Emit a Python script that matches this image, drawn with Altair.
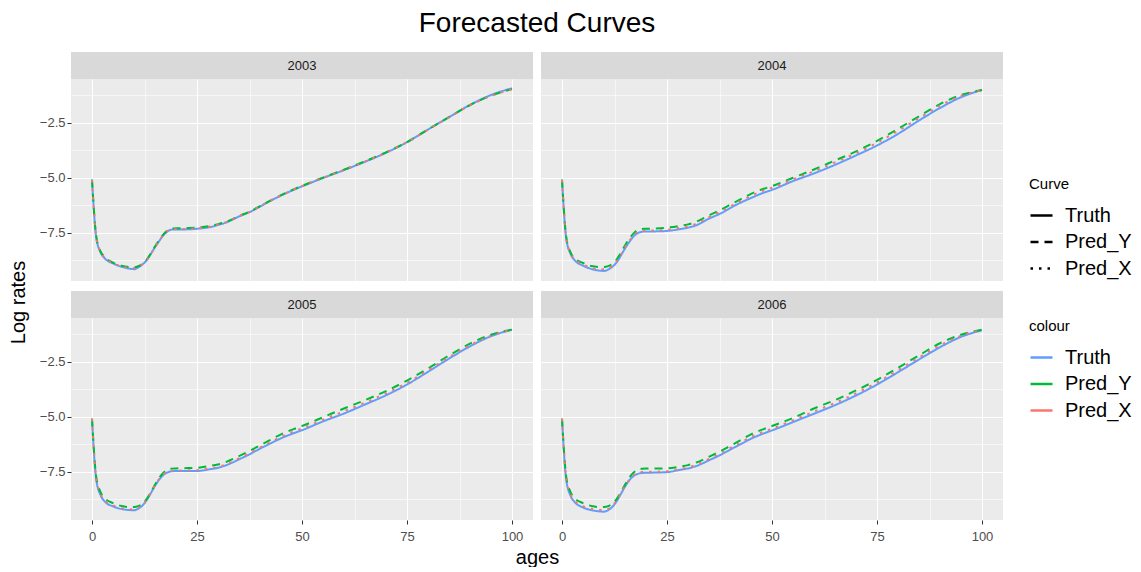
import altair as alt
import pandas as pd

FONT = "Liberation Sans"

ages = [0, 1, 2, 3, 5, 7, 9, 10, 11, 12, 13, 14, 15, 16, 17, 18, 19, 20, 22, 25,
        28, 30, 32, 35, 38, 40, 42, 45, 48, 50, 55, 60, 65, 70, 75, 80, 85, 90, 95, 100]

years = ["2003", "2004", "2005", "2006"]
curves = ["Truth", "Pred_Y", "Pred_X"]

truth_2003 = [-5.12, -7.70, -8.38, -8.66, -8.90, -9.05, -9.14, -9.16, -9.08, -8.95, -8.76, -8.47, -8.16, -7.88, -7.62, -7.44, -7.36, -7.35, -7.35, -7.32,
              -7.25, -7.15, -7.03, -6.76, -6.52, -6.31, -6.10, -5.81, -5.55, -5.39, -5.01, -4.65, -4.27, -3.86, -3.38, -2.80, -2.24, -1.68, -1.23, -0.92]
predy_2003 = [-5.08, -7.65, -8.34, -8.60, -8.86, -9.00, -9.07, -9.08, -9.03, -8.92, -8.73, -8.45, -8.13, -7.84, -7.58, -7.40, -7.32, -7.30, -7.29, -7.27,
              -7.20, -7.11, -7.00, -6.74, -6.50, -6.29, -6.08, -5.79, -5.53, -5.37, -4.99, -4.63, -4.25, -3.84, -3.37, -2.80, -2.24, -1.69, -1.26, -0.96]
predx_2003 = [-5.10, -7.68, -8.36, -8.63, -8.88, -9.03, -9.11, -9.12, -9.06, -8.94, -8.75, -8.46, -8.15, -7.86, -7.60, -7.42, -7.34, -7.33, -7.33, -7.30,
              -7.23, -7.13, -7.02, -6.75, -6.51, -6.30, -6.09, -5.80, -5.54, -5.38, -5.00, -4.64, -4.26, -3.85, -3.38, -2.81, -2.25, -1.70, -1.27, -0.97]

truth_2004 = [-5.12, -7.75, -8.45, -8.75, -9.00, -9.15, -9.23, -9.24, -9.18, -9.05, -8.85, -8.55, -8.22, -7.93, -7.68, -7.52, -7.46, -7.44, -7.44, -7.42,
              -7.34, -7.27, -7.16, -6.86, -6.60, -6.38, -6.18, -5.92, -5.68, -5.55, -5.15, -4.80, -4.41, -3.98, -3.53, -3.00, -2.39, -1.82, -1.33, -1.00]
predy_2004 = [-5.08, -7.68, -8.38, -8.65, -8.88, -9.02, -9.06, -9.06, -9.02, -8.92, -8.72, -8.42, -8.08, -7.78, -7.54, -7.38, -7.33, -7.32, -7.31, -7.27,
              -7.19, -7.12, -7.00, -6.71, -6.44, -6.23, -6.03, -5.73, -5.50, -5.38, -5.00, -4.62, -4.21, -3.80, -3.32, -2.77, -2.20, -1.64, -1.23, -1.00]
predx_2004 = [-5.10, -7.72, -8.42, -8.70, -8.95, -9.10, -9.16, -9.17, -9.12, -9.00, -8.80, -8.50, -8.17, -7.88, -7.63, -7.47, -7.42, -7.41, -7.40, -7.37,
              -7.28, -7.21, -7.09, -6.79, -6.52, -6.31, -6.11, -5.82, -5.58, -5.45, -5.07, -4.70, -4.30, -3.88, -3.41, -2.86, -2.28, -1.71, -1.27, -1.01]

truth_2005 = [-5.12, -7.85, -8.55, -8.85, -9.08, -9.20, -9.25, -9.26, -9.19, -9.04, -8.80, -8.48, -8.14, -7.86, -7.65, -7.53, -7.48, -7.47, -7.47, -7.47,
              -7.39, -7.32, -7.20, -6.94, -6.66, -6.45, -6.26, -5.98, -5.75, -5.61, -5.21, -4.85, -4.44, -4.02, -3.53, -2.95, -2.35, -1.79, -1.33, -1.03]
predy_2005 = [-5.08, -7.72, -8.42, -8.70, -8.93, -9.06, -9.11, -9.11, -9.07, -8.96, -8.75, -8.44, -8.09, -7.78, -7.55, -7.40, -7.36, -7.35, -7.34, -7.32,
              -7.24, -7.17, -7.05, -6.79, -6.51, -6.30, -6.10, -5.80, -5.56, -5.42, -5.02, -4.62, -4.24, -3.83, -3.35, -2.80, -2.21, -1.67, -1.26, -1.03]
predx_2005 = [-5.10, -7.80, -8.50, -8.80, -9.03, -9.16, -9.21, -9.22, -9.15, -9.01, -8.78, -8.46, -8.12, -7.83, -7.62, -7.50, -7.45, -7.44, -7.44, -7.43,
              -7.35, -7.28, -7.16, -6.89, -6.61, -6.40, -6.20, -5.91, -5.67, -5.53, -5.13, -4.75, -4.35, -3.93, -3.45, -2.88, -2.29, -1.74, -1.31, -1.04]

truth_2006 = [-5.12, -7.85, -8.58, -8.88, -9.13, -9.25, -9.31, -9.32, -9.25, -9.10, -8.85, -8.52, -8.18, -7.90, -7.70, -7.60, -7.56, -7.55, -7.54, -7.52,
              -7.42, -7.35, -7.24, -6.98, -6.71, -6.50, -6.30, -6.00, -5.76, -5.62, -5.24, -4.86, -4.47, -4.03, -3.53, -2.97, -2.39, -1.83, -1.36, -1.06]
predy_2006 = [-5.08, -7.72, -8.42, -8.70, -8.93, -9.06, -9.11, -9.11, -9.07, -8.96, -8.75, -8.44, -8.09, -7.78, -7.55, -7.41, -7.37, -7.36, -7.36, -7.35,
              -7.27, -7.20, -7.08, -6.82, -6.54, -6.33, -6.12, -5.80, -5.56, -5.42, -5.05, -4.62, -4.24, -3.80, -3.32, -2.77, -2.20, -1.65, -1.26, -1.03]
predx_2006 = [-5.10, -7.80, -8.52, -8.82, -9.07, -9.19, -9.24, -9.25, -9.19, -9.05, -8.81, -8.49, -8.15, -7.87, -7.67, -7.56, -7.51, -7.50, -7.50, -7.48,
              -7.38, -7.30, -7.18, -6.92, -6.65, -6.43, -6.23, -5.92, -5.68, -5.54, -5.16, -4.76, -4.37, -3.93, -3.44, -2.88, -2.30, -1.75, -1.31, -1.05]

series = {
    "2003": [truth_2003, predy_2003, predx_2003],
    "2004": [truth_2004, predy_2004, predx_2004],
    "2005": [truth_2005, predy_2005, predx_2005],
    "2006": [truth_2006, predy_2006, predx_2006],
}

x_major = [0, 25, 50, 75, 100]
x_minor = [12.5, 37.5, 62.5, 87.5]
y_major = [-7.5, -5.0, -2.5]
y_minor = [-8.75, -6.25, -3.75, -1.25]

colors = ["#619CFF", "#00BA38", "#F8766D"]
dashes = [[1, 0], [8, 6], [2.5, 6]]

rows = []
for yr in years:
    for name, vals in zip(curves, series[yr]):
        for a, v in zip(ages, vals):
            rows.append({"year": yr, "age": a, "rate": v, "Curve": name, "colour": name})
df = pd.DataFrame(rows)

W, H, SH, GAP = 462, 202, 27, 10
GRID_X = "abs(datum.value/25 - round(datum.value/25)) < 0.001"
GRID_Y = "abs(datum.value/2.5 - round(datum.value/2.5)) < 0.001"


def make_axis(vals, test, show, title=None, fmt=None, **extra):
    kw = dict(
        values=vals, grid=True, gridColor="white",
        gridWidth={"condition": {"test": test, "value": 1.1}, "value": 0.55},
        domain=False, labelOverlap=False, labelFlush=False,
    )
    if show:
        kw.update(
            ticks=True, tickColor="#333333", tickSize=4, tickWidth=1,
            tickOpacity={"condition": {"test": test, "value": 1}, "value": 0},
            labelExpr="(%s) ? datum.label : ''" % test,
            labelColor="#4D4D4D", labelFontSize=13, labelFont=FONT,
        )
    else:
        kw.update(ticks=False, labels=False)
    if fmt:
        kw["format"] = fmt
    if title:
        kw.update(title=title, titleFontSize=20, titleFontWeight="normal",
                  titleColor="black", titleFont=FONT)
    else:
        kw["title"] = None
    kw.update(extra)
    return alt.Axis(**kw)


def legend(title, y, **extra):
    return alt.Legend(title=title, orient="none", legendX=958, legendY=y,
                      symbolType="stroke", symbolStrokeWidth=2.5, symbolSize=484,
                      labelFontSize=20, labelFont=FONT, labelColor="black",
                      titleFontSize=15, titleFont=FONT, titleFontWeight="normal",
                      titleColor="black", labelOffset=11, rowPadding=3.5,
                      titlePadding=11, **extra)


def plot(yr, show_x, show_y, xtitle=False, ytitle=False):
    sub = df[df["year"] == yr]
    xextra = {"labelPadding": 6} if show_x else {}
    if xtitle:
        xextra.update({"titleX": W + 4, "titlePadding": 4})
    yextra = {"labelPadding": 2} if show_y else {}
    if ytitle:
        yextra.update({"titleY": 223, "titlePadding": 11})
    xaxis = make_axis(x_major + x_minor, GRID_X, show_x,
                      title="ages" if xtitle else None, **xextra)
    yaxis = make_axis(y_major + y_minor, GRID_Y, show_y, fmt=".1f",
                      title="Log rates" if ytitle else None, **yextra)
    base = alt.Chart(sub).mark_line(strokeWidth=2, interpolate="monotone").encode(
        x=alt.X("age:Q", scale=alt.Scale(domain=[-5, 105], nice=False, zero=False), axis=xaxis),
        y=alt.Y("rate:Q", scale=alt.Scale(domain=[-9.70, -0.50], nice=False, zero=False), axis=yaxis),
        color=alt.Color("colour:N", scale=alt.Scale(domain=curves, range=colors),
                        legend=legend("colour", 267)),
        strokeDash=alt.StrokeDash("Curve:N", sort="descending", scale=alt.Scale(range=dashes),
                                  legend=legend("Curve", 125, symbolStrokeColor="black")),
    )
    layers = [base.transform_filter(alt.datum.Curve == c) for c in curves]
    return alt.layer(*layers).properties(
        width=W, height=H, view=alt.ViewBackground(fill="#EBEBEB", stroke=None))


def strip(yr):
    return alt.Chart(pd.DataFrame({"year": [yr]})).mark_text(
        fontSize=13, font=FONT, color="#1A1A1A"
    ).encode(text="year:N").properties(
        width=W, height=SH, view=alt.ViewBackground(fill="#D9D9D9", stroke=None))


def gap():
    return alt.Chart(pd.DataFrame({"year": [""]})).mark_text().encode(
        text="year:N").properties(width=W, height=GAP,
                                  view=alt.ViewBackground(fill=None, stroke=None))


cells = [
    strip("2003"), strip("2004"),
    plot("2003", False, True, ytitle=True), plot("2004", False, False),
    gap(), gap(),
    strip("2005"), strip("2006"),
    plot("2005", True, True, xtitle=True), plot("2006", True, False),
]

chart = alt.concat(*cells, columns=2, spacing={"row": 0, "column": 8},
                   bounds="flush", align="each").properties(
    title=alt.TitleParams("Forecasted Curves", fontSize=28, font=FONT, fontWeight="normal",
                          color="black", anchor="middle", frame="group", offset=14, dx=466),
    padding={"left": 0, "top": 2, "right": 0, "bottom": 0},
).configure_view(stroke=None).configure(font=FONT)

chart.save("out.html", embed_options={"renderer": "svg", "actions": False})
